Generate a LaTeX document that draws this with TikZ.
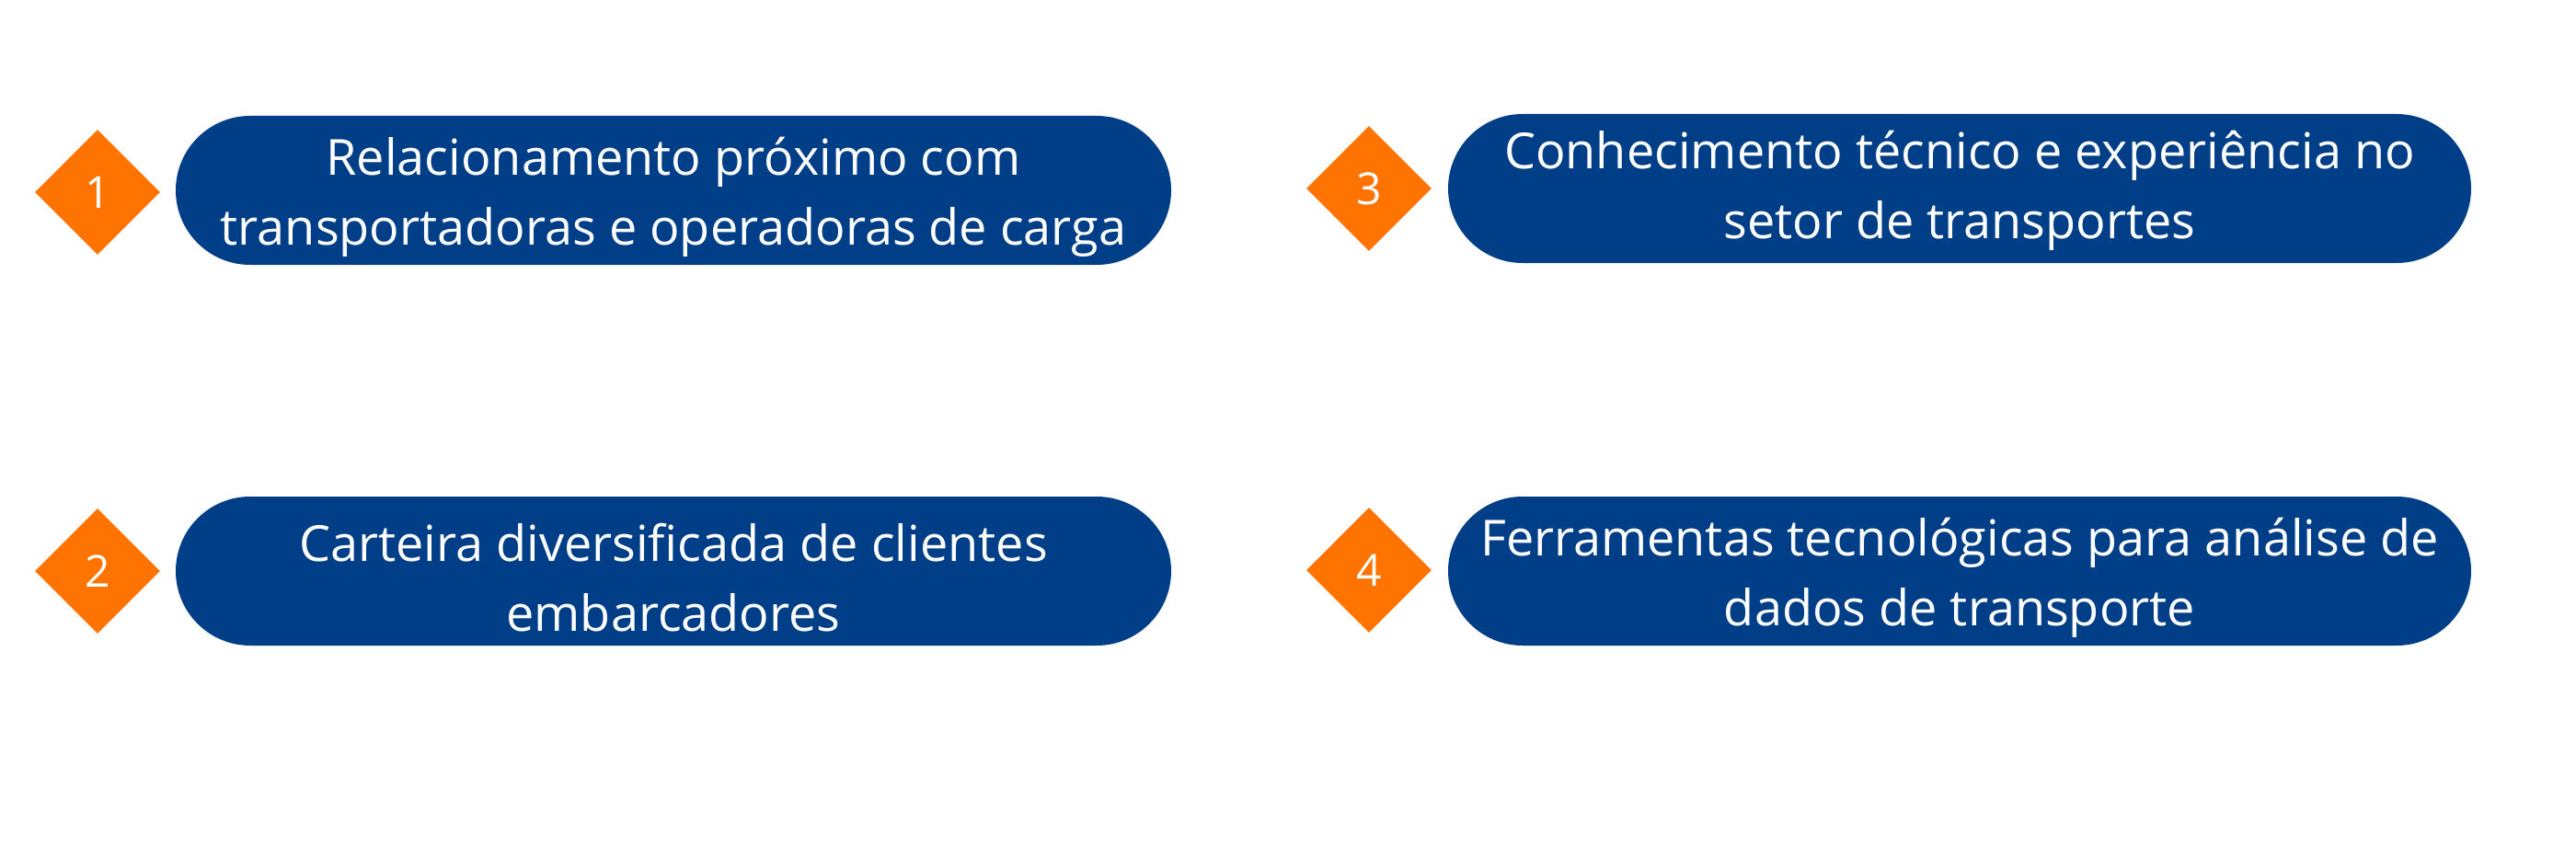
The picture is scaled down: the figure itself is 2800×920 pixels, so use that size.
\documentclass[tikz,border=0pt]{standalone}
\usepackage{fontspec}
\setmainfont{Open Sans}
\definecolor{pillblue}{HTML}{003F87}
\definecolor{dorange}{HTML}{FF7300}
\begin{document}
\begin{tikzpicture}[x=1pt,y=-1pt,
  pill/.style={fill=pillblue, rounded corners=81pt, minimum width=1082pt, minimum height=162pt, inner sep=0pt},
  pillb/.style={pill, minimum width=1112pt},
  pilltxt/.style={text=white, align=center, inner sep=0pt, font=\fontsize{54}{76}\selectfont},
  num/.style={fill=dorange, shape=rectangle, rotate=45, minimum width=96pt, minimum height=96pt, inner sep=0pt},
  numtxt/.style={text=white, font=\fontsize{48}{50}\selectfont}]
\useasboundingbox (0,0) rectangle (2800,920);
\fill[white] (0,0) rectangle (2800,920);
\node[num] (d1) at (106,209) {};
\node[numtxt] (n1) at (d1.center) {1};
\node[pill] (p1) at (732,207) {};
\node[pilltxt] (t1) at ([yshift=-7pt]p1.center) {Relacionamento próximo com\\transportadoras e operadoras de carga};
\node[num] (d2) at (106,621) {};
\node[numtxt] (n2) at (d2.center) {2};
\node[pill] (p2) at (732,621) {};
\node[pilltxt] (t2) at ([yshift=-7pt]p2.center) {Carteira diversificada de clientes\\embarcadores};
\node[num] (d3) at (1488,205) {};
\node[numtxt] (n3) at (d3.center) {3};
\node[pillb] (p3) at (2130,205) {};
\node[pilltxt] (t3) at ([yshift=-2pt]p3.center) {Conhecimento técnico e experiência no\\setor de transportes};
\node[num] (d4) at (1488,620) {};
\node[numtxt] (n4) at (d4.center) {4};
\node[pillb] (p4) at (2130,621) {};
\node[pilltxt] (t4) at ([yshift=-7pt]p4.center) {Ferramentas tecnológicas para análise de\\dados de transporte};
\end{tikzpicture}
\end{document}
